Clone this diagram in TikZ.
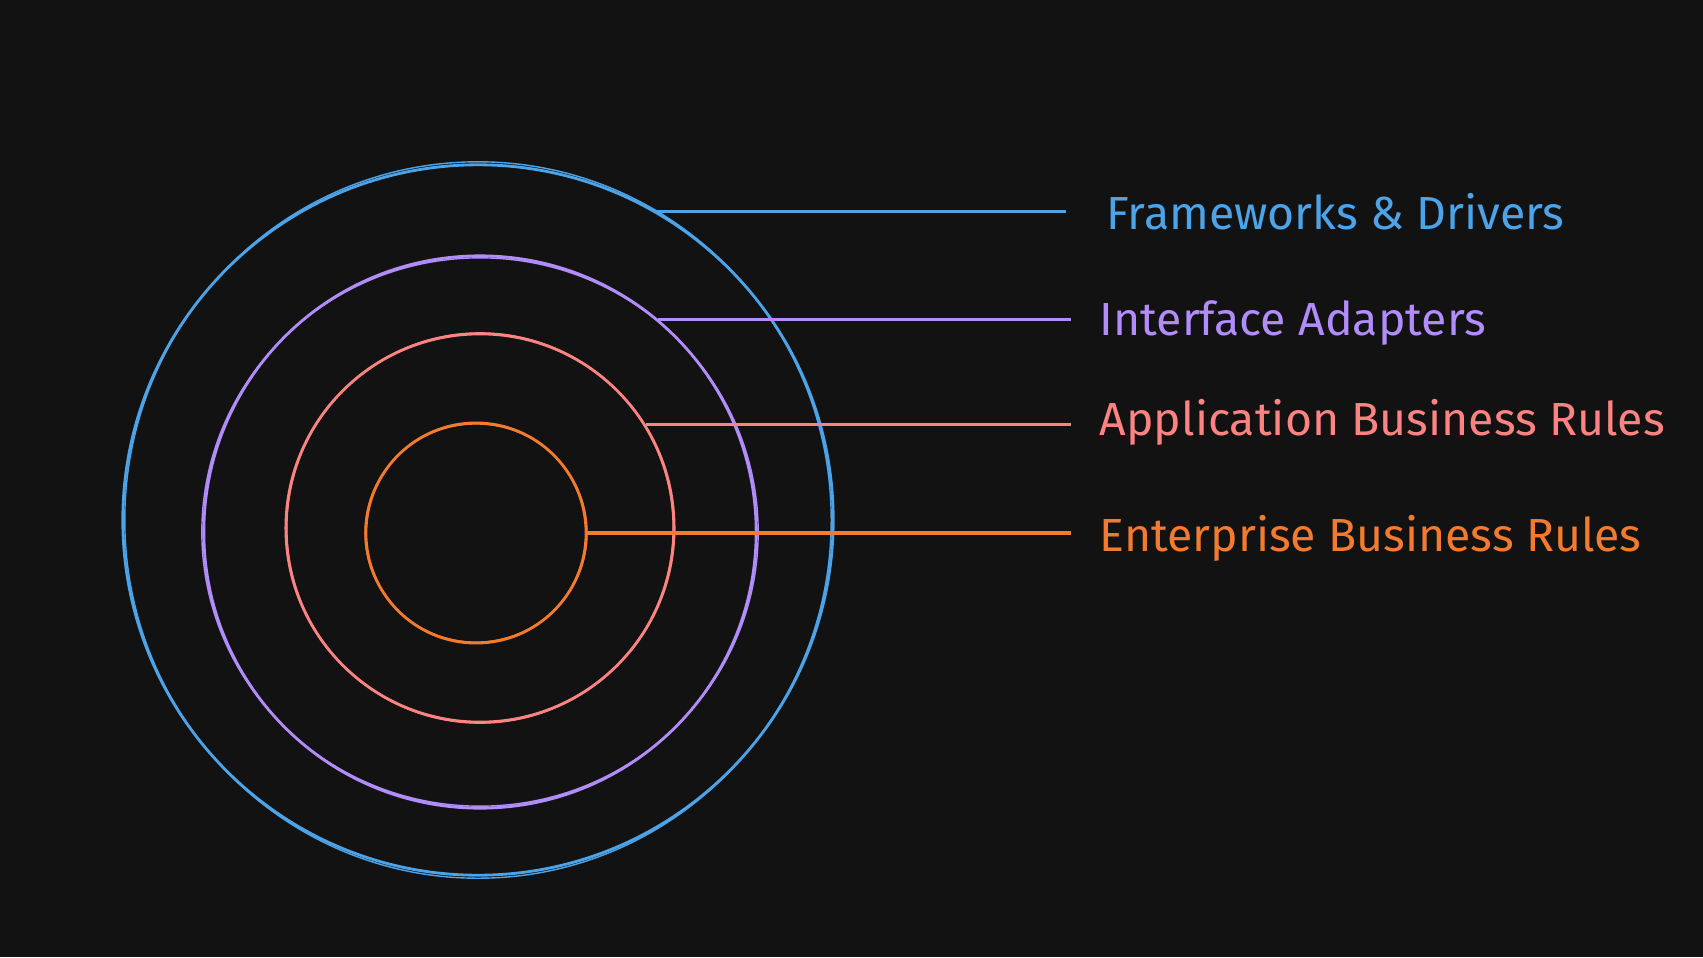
\documentclass[tikz,border=0pt]{standalone}
\usepackage{fontspec}
\setmainfont{Fira Sans}
\usetikzlibrary{positioning,calc}

\definecolor{bgdark}{HTML}{121212}
\definecolor{fwblue}{HTML}{4DA3E8}
\definecolor{iapurple}{HTML}{B18CFB}
\definecolor{abrpink}{HTML}{FF8383}
\definecolor{ebrorange}{HTML}{F47B2E}

\tikzset{
  ring/.style={circle, draw=#1, line width=0.8pt, inner sep=0pt},
  sketch/.style={draw=#1, line width=0.4pt},
  layer/.style={anchor=west, text=#1, font=\fontsize{13.2}{15}\selectfont, inner sep=0pt},
  lead/.style={draw=#1, line width=0.9pt, shorten >=0.28cm},
}

\begin{document}
\begin{tikzpicture}[x=0.01cm,y=-0.01cm]
        \fill[bgdark] (0,0) rectangle (1703,957);   % dark canvas

        % the four layers, outermost first
        \node[ring=fwblue,    minimum size=7.1cm]  (fw)  at (478,520) {};
        \node[ring=iapurple,  minimum size=5.52cm] (ia)  at (480,532) {};
        \node[ring=abrpink,   minimum size=3.88cm] (abr) at (480,528) {};
        \node[ring=ebrorange, minimum size=2.2cm]  (ebr) at (476,533) {};

        % second, rougher stroke round each ring
        \draw[sketch=fwblue]    (fw)  ellipse [x radius=3.53cm, y radius=3.58cm];
        \draw[sketch=iapurple]  (ia)  ellipse [x radius=2.78cm, y radius=2.74cm];
        \draw[sketch=abrpink]   (abr) ellipse [x radius=1.93cm, y radius=1.95cm];
        \draw[sketch=ebrorange] (ebr) ellipse [x radius=1.11cm, y radius=1.09cm];

        % labels
        \node[layer=fwblue]    (fwtext)  at (1106,212) {Frameworks \& Drivers};
        \node[layer=iapurple]  (iatext)  at (1099,323) {Interface Adapters};
        \node[layer=abrpink]   (abrtext) at (1099,422) {Application Business Rules};
        \node[layer=ebrorange] (ebrtext) at (1099,538) {Enterprise Business Rules};

        % leader lines from ring to label
        \draw[lead=fwblue, shorten >=0.4cm] (fw.60) -- (fw.60 -| fwtext.west);
        \draw[lead=iapurple]  (ia.50)  -- (ia.50 -| iatext.west);
        \draw[lead=abrpink]   (abr.32) -- (abr.32 -| abrtext.west);
        \draw[lead=ebrorange] (ebr.0)  -- (ebr.0 -| ebrtext.west);
\end{tikzpicture}
\end{document}
